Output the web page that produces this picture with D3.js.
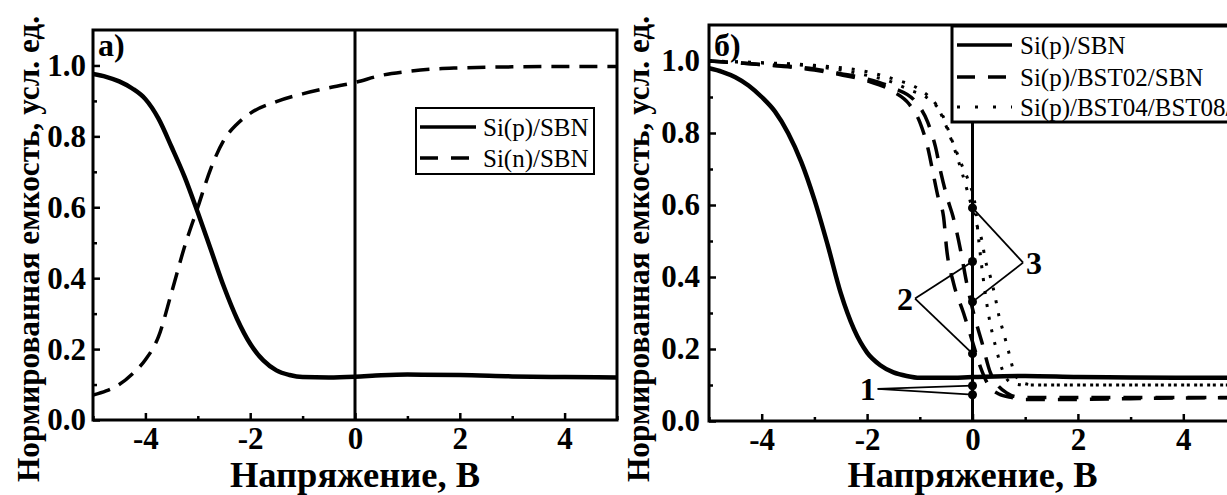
<!DOCTYPE html>
<html><head><meta charset="utf-8">
<script src="https://cdn.jsdelivr.net/npm/d3@7"></script>
<style>body{margin:0;background:#fff}svg{display:block}
svg text{font-family:"Liberation Serif","Times New Roman",Times,serif}</style>
</head><body>
<svg id="c" width="1227" height="495"></svg>
<script>
// ---- data ----
const xTicks = [-4, -2, 0, 2, 4];
const yTicks = [0.0, 0.2, 0.4, 0.6, 0.8, 1.0];
const yTickLabels = ["0.0", "0.2", "0.4", "0.6", "0.8", "1.0"];
const xTitle = "Напряжение, В";
const yTitle = "Нормированная емкость, усл. ед.";

// panel a
const aSiP_V = [-5,-4.75,-4.5,-4.25,-4,-3.75,-3.5,-3.25,-3,-2.75,-2.5,-2.25,-2,-1.75,-1.5,-1.25,-1,-0.5,0,0.5,1,2,3,4,5];
const aSiP_C = [0.976,0.968,0.955,0.935,0.905,0.85,0.77,0.685,0.585,0.48,0.375,0.285,0.215,0.168,0.14,0.127,0.121,0.12,0.122,0.126,0.128,0.127,0.123,0.121,0.12];
const aSiN_V = [-5,-4.75,-4.5,-4.25,-4,-3.75,-3.5,-3.25,-3,-2.75,-2.5,-2.25,-2,-1.5,-1,-0.5,0,0.5,1,1.5,2,3,4,5];
const aSiN_C = [0.07,0.082,0.1,0.13,0.17,0.235,0.36,0.49,0.6,0.71,0.79,0.835,0.865,0.898,0.92,0.937,0.952,0.972,0.983,0.99,0.993,0.996,0.997,0.997];
const aSeries = ["Si(p)/SBN", "Si(n)/SBN"];

// panel b
const bSiP_V = [-5,-4.75,-4.5,-4.25,-4,-3.75,-3.5,-3.25,-3,-2.75,-2.5,-2.25,-2,-1.75,-1.5,-1.25,-1,-0.5,0,1,2,3,4,5];
const bSiP_C = [0.98,0.97,0.955,0.932,0.9,0.86,0.8,0.72,0.615,0.49,0.355,0.255,0.19,0.155,0.135,0.125,0.12,0.12,0.122,0.125,0.122,0.121,0.12,0.12];
const bBST02a_V = [-5,-4,-3,-2.5,-2,-1.5,-1.2,-1,-0.85,-0.75,-0.65,-0.55,-0.49,-0.36,-0.17,0,0.15,0.3,0.5,0.75,1,2,3,4,5];
const bBST02a_C = [1.0,0.99,0.975,0.962,0.945,0.915,0.88,0.83,0.76,0.69,0.62,0.568,0.477,0.383,0.3,0.22,0.15,0.1,0.075,0.065,0.06,0.06,0.062,0.064,0.065];
const bBST02b_V = [-5,-4,-3,-2.5,-2,-1.5,-1.1,-0.85,-0.7,-0.6,-0.48,-0.37,-0.23,-0.11,0.02,0.18,0.34,0.46,0.65,0.8,1,2,3,4,5];
const bBST02b_C = [1.0,0.99,0.978,0.965,0.95,0.925,0.89,0.83,0.76,0.69,0.62,0.568,0.477,0.383,0.3,0.218,0.134,0.103,0.078,0.068,0.065,0.065,0.065,0.065,0.065];
const bBST04a_V = [-5,-4,-3,-2.5,-2,-1.6,-1.2,-0.83,-0.57,-0.39,-0.2,-0.06,0.05,0.12,0.2,0.3,0.45,0.6,0.75,1,2,3,4,5];
const bBST04a_C = [1.0,0.995,0.985,0.975,0.96,0.945,0.92,0.894,0.85,0.78,0.71,0.66,0.6,0.5,0.4,0.3,0.2,0.13,0.105,0.1,0.1,0.1,0.1,0.1];
const bBST04b_V = [-5,-4,-3,-2,-1.5,-1,-0.67,-0.45,-0.22,-0.08,0.07,0.18,0.24,0.34,0.43,0.5,0.59,0.69,0.78,0.96,1.2,2,3,4,5];
const bBST04b_C = [1.0,0.995,0.988,0.97,0.95,0.92,0.874,0.8,0.7,0.63,0.55,0.5,0.45,0.4,0.345,0.293,0.245,0.19,0.14,0.105,0.1,0.1,0.1,0.1,0.1];
const bSeries = ["Si(p)/SBN", "Si(p)/BST02/SBN", "Si(p)/BST04/BST08/SBN"];
// annotation markers at V = 0
const markC = [0.592, 0.443, 0.331, 0.187, 0.098, 0.073];
const annLabels = ["1", "2", "3"];
const annVertexV = [-1.8, -1.09, 0.96];
const annVertexC = [0.089, 0.34, 0.44];
const annTargets = [[0.098, 0.073], [0.443, 0.187], [0.592, 0.331]];

// ---- drawing ----
const svg = d3.select("#c");
const zip = (xs, ys) => xs.map((x, i) => [x, ys[i]]);
function bold(sel, size) {
  return sel.style("font-size", size + "px").style("font-weight", "bold").attr("fill", "#000");
}

function panel(o) {
  const x = d3.scaleLinear().domain([-5, 5]).range([o.x0, o.x1]);
  const y = d3.scaleLinear().domain([0, 1.1]).range([o.y0, o.y1]);
  const g = svg.append("g");
  const cid = "clip" + o.id;
  svg.append("clipPath").attr("id", cid).append("rect")
    .attr("x", o.x0).attr("y", o.y1).attr("width", o.x1 - o.x0).attr("height", o.y0 - o.y1);
  const plot = g.append("g").attr("clip-path", `url(#${cid})`);

  const xMinor = d3.axisBottom(x).tickValues([-5,-3,-1,1,3,5]).tickSize(-4).tickFormat("");
  const xMajor = d3.axisBottom(x).tickValues(xTicks).tickSizeInner(-7).tickSizeOuter(0).tickPadding(7).tickFormat(d3.format("d"));
  const yMinor = d3.axisLeft(y).tickValues([0.1,0.3,0.5,0.7,0.9]).tickSize(-4).tickFormat("");
  const yMajor = d3.axisLeft(y).tickValues(yTicks).tickSizeInner(-7).tickSizeOuter(0).tickPadding(o.ypad).tickFormat((d, i) => yTickLabels[i]);
  [xMinor, xMajor].forEach(a => g.append("g").attr("transform", `translate(0,${o.y0})`).call(a));
  [yMinor, yMajor].forEach(a => g.append("g").attr("transform", `translate(${o.x0},0)`).call(a));
  g.selectAll(".domain").remove();
  g.selectAll(".tick line").attr("stroke", "#000").attr("stroke-width", 2.5);
  const tt = g.selectAll(".tick text").attr("font-family", null).attr("font-size", null)
    .text(function(){ return d3.select(this).text().replace("−","-"); });
  bold(tt, 31);

  g.append("rect").attr("x", o.x0).attr("y", o.y1).attr("width", o.x1 - o.x0).attr("height", o.y0 - o.y1)
    .attr("fill", "none").attr("stroke", "#000").attr("stroke-width", 3);

  plot.append("line").attr("x1", x(0)).attr("x2", x(0)).attr("y1", o.y1).attr("y2", o.y0)
    .attr("stroke", "#000").attr("stroke-width", 3);

  const line = d3.line().x(d => x(d[0])).y(d => y(d[1])).curve(d3.curveMonotoneX);
  o.curves.forEach(c => {
    plot.append("path").datum(c.data).attr("d", line).attr("fill", "none").attr("stroke", "#000")
      .attr("stroke-width", c.w).attr("stroke-dasharray", c.dash || null).attr("stroke-linecap", "butt");
  });

  bold(g.append("text").attr("x", (o.x0 + o.x1) / 2).attr("y", 487).attr("text-anchor", "middle")
    .attr("textLength", 250).attr("lengthAdjust", "spacingAndGlyphs").text(xTitle), 36);
  bold(g.append("text").attr("transform", `translate(${o.ytx},249) rotate(-90)`).attr("text-anchor", "middle")
    .attr("textLength", 466).attr("lengthAdjust", "spacingAndGlyphs").text(yTitle), 31);
  bold(g.append("text").attr("x", o.x0 + 5).attr("y", 56).text(o.label), 32);
  return {x, y, g, plot};
}

const pa = panel({id: "a", x0: 93, x1: 617, y0: 420, y1: 30, ypad: 7, ytx: 39, label: "а)",
  curves: [
    {data: zip(aSiP_V, aSiP_C), w: 4.5},
    {data: zip(aSiN_V, aSiN_C), w: 3.5, dash: "18,10"}
  ]});

{
  const g = pa.g;
  g.append("rect").attr("x", 416).attr("y", 108).attr("width", 178).attr("height", 66)
    .attr("fill", "#fff").attr("stroke", "#000").attr("stroke-width", 2);
  const rows = [127, 158];
  const dashes = [null, "18,13"];
  aSeries.forEach((s, i) => {
    g.append("line").attr("x1", 420).attr("x2", 476).attr("y1", rows[i]).attr("y2", rows[i])
      .attr("stroke", "#000").attr("stroke-width", 3.5).attr("stroke-dasharray", dashes[i]);
    g.append("text").attr("x", 483).attr("y", rows[i] + 9).style("font-size", "25px").text(s);
  });
}

const pb = panel({id: "b", x0: 709, x1: 1236, y0: 421, y1: 25, ypad: 9, ytx: 649, label: "б)",
  curves: [
    {data: zip(bSiP_V, bSiP_C), w: 4.5},
    {data: zip(bBST02a_V, bBST02a_C), w: 3.5, dash: "19,13"},
    {data: zip(bBST02b_V, bBST02b_C), w: 3.5, dash: "19,13"},
    {data: zip(bBST04a_V, bBST04a_C), w: 3, dash: "3,10"},
    {data: zip(bBST04b_V, bBST04b_C), w: 3, dash: "3,10"}
  ]});

{
  const {x, y, g} = pb;
  annLabels.forEach((lab, i) => {
    const vx = x(annVertexV[i]), vy = y(annVertexC[i]);
    annTargets[i].forEach(t => {
      g.append("line").attr("x1", vx).attr("y1", vy).attr("x2", x(0)).attr("y2", y(t))
        .attr("stroke", "#000").attr("stroke-width", 1.8);
    });
    const left = annVertexV[i] < 0;
    bold(g.append("text").attr("x", left ? vx - 2 : vx + 3).attr("y", vy + 11)
      .attr("text-anchor", left ? "end" : "start").text(lab), 32);
  });
  g.selectAll(null).data(markC).enter().append("circle")
    .attr("cx", x(0)).attr("cy", d => y(d)).attr("r", 4.5).attr("fill", "#000");

  g.append("rect").attr("x", 952).attr("y", 26).attr("width", 300).attr("height", 96)
    .attr("fill", "#fff").attr("stroke", "#000").attr("stroke-width", 3);
  const rows = [45, 77, 107];
  const dashes = [null, "18,13", "3,15"];
  const ws = [3.5, 3.5, 3];
  bSeries.forEach((s, i) => {
    g.append("line").attr("x1", 957).attr("x2", 1012).attr("y1", rows[i]).attr("y2", rows[i])
      .attr("stroke", "#000").attr("stroke-width", ws[i]).attr("stroke-dasharray", dashes[i]);
    g.append("text").attr("x", 1020).attr("y", rows[i] + 9).style("font-size", "25px").text(s);
  });
}
</script>
</body></html>
